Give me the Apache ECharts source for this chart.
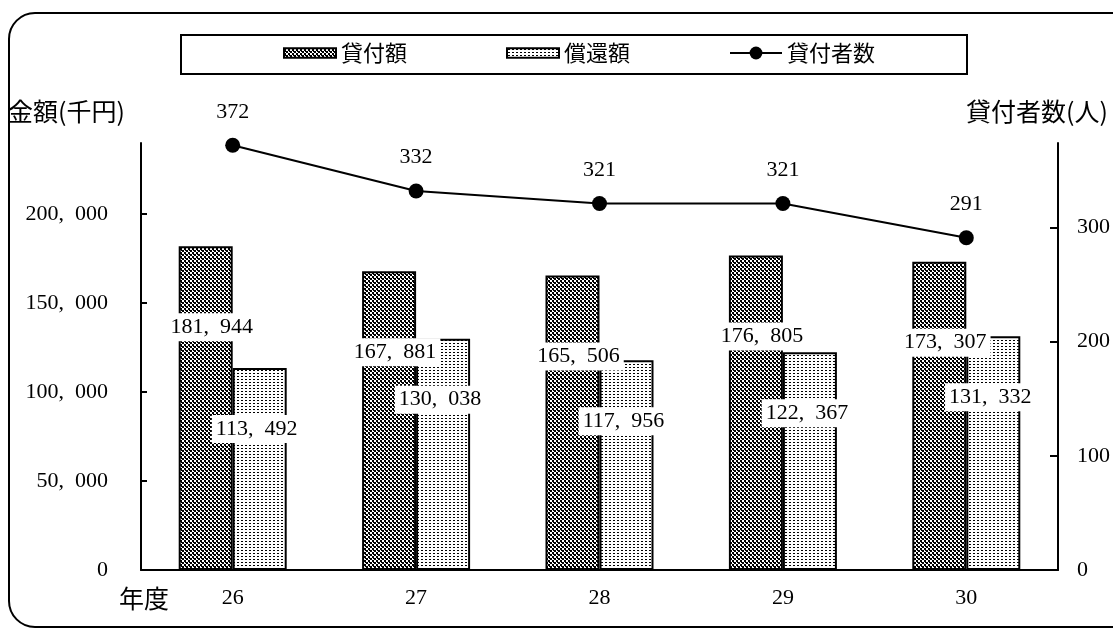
<!DOCTYPE html>
<html lang="ja">

<head>
	<meta charset="UTF-8" />
	<title>貸付額・償還額・貸付者数</title>
	<script src="https://cdn.jsdelivr.net/npm/echarts@6/dist/echarts.min.js"></script>
	<style type="text/css">
		html,
		body {
			margin: 0;
			padding: 0;
			background-color: #ffffff;
		}

		#chart {
			width: 1113px;
			height: 631px;
		}
	</style>
</head>

<body>
	<div id="chart"></div>

	<script>
		//--------------------------- データ ---------------------------//

		const years = ['26', '27', '28', '29', '30'];
		const loanAmount = [181944, 167881, 165506, 176805, 173307];      // 貸付額
		const repayAmount = [113492, 130038, 117956, 122367, 131332];     // 償還額
		const borrowers = [372, 332, 321, 321, 291];                      // 貸付者数
		const leftTicks = [0, 50000, 100000, 150000, 200000];
		const rightTicks = [0, 100, 200, 300];

		const numFont = 'Liberation Serif';
		const jpFont = 'Noto Sans CJK JP';

		// 「181, 944」のような表記 (カンマの後に半角幅の空き)
		function fmt(v) {
			return String(v).replace(/\B(?=(\d{3})+(?!\d))/g, ',\u2002');
		}

		//--------------------------- 網掛けパターン ---------------------------//

		function makePattern(w, h, draw) {
			const c = document.createElement('canvas');
			c.width = w;
			c.height = h;
			const ctx = c.getContext('2d');
			ctx.fillStyle = '#ffffff';
			ctx.fillRect(0, 0, w, h);
			ctx.fillStyle = '#000000';
			draw(ctx);
			return { image: c, repeat: 'repeat' };
		}

		// 貸付額: 濃い市松
		const darkPattern = makePattern(4, 4, (ctx) => {
			ctx.fillRect(0, 0, 2, 2);
			ctx.fillRect(2, 2, 2, 2);
			ctx.fillRect(1, 2, 1, 1);
		});

		// 償還額: 細かいドット
		const dotPattern = makePattern(4, 3, (ctx) => {
			ctx.fillRect(1, 1, 2, 1);
		});

		const barIcon = 'path://M0,0h54v10h-54z';

		//--------------------------- グラフ ---------------------------//

		const chart = echarts.init(document.getElementById('chart'), null, { renderer: 'canvas' });

		chart.setOption({
			animation: false,
			backgroundColor: '#ffffff',
			grid: {
				left: 141,
				right: 55,
				top: 143,
				bottom: 61
			},
			legend: {
				left: 283,
				top: 42,
				itemWidth: 52,
				itemHeight: 16,
				itemGap: 99,
				padding: 0,
				symbolKeepAspect: true,
				textStyle: { fontFamily: jpFont, fontSize: 22, color: '#000' },
				data: [
					{ name: '貸付額', icon: barIcon },
					{ name: '償還額', icon: barIcon },
					{ name: '貸付者数' }
				]
			},
			xAxis: {
				type: 'category',
				data: years,
				axisLine: { lineStyle: { color: '#000', width: 2 } },
				axisTick: { inside: true, length: 7, lineStyle: { color: '#000', width: 2 } },
				axisLabel: { margin: 17, fontFamily: numFont, fontSize: 22, color: '#000' }
			},
			yAxis: [
				{
					type: 'value',
					min: 0,
					max: 240000,
					interval: 50000,
					splitLine: { show: false },
					axisLine: { show: true, lineStyle: { color: '#000', width: 2 } },
					axisTick: { show: true, inside: true, length: 6, customValues: leftTicks, lineStyle: { color: '#000', width: 2 } },
					axisLabel: {
						margin: 33,
						customValues: leftTicks,
						fontFamily: numFont,
						fontSize: 22,
						color: '#000',
						formatter: (v) => fmt(v)
					}
				},
				{
					type: 'value',
					min: 0,
					max: 374,
					interval: 100,
					splitLine: { show: false },
					axisLine: { show: true, lineStyle: { color: '#000', width: 2 } },
					axisTick: { show: true, inside: true, length: 8, customValues: rightTicks, lineStyle: { color: '#000', width: 2 } },
					axisLabel: {
						margin: 19,
						customValues: rightTicks,
						fontFamily: numFont,
						fontSize: 22,
						color: '#000'
					}
				}
			],
			series: [
				{
					name: '貸付額',
					type: 'bar',
					data: loanAmount,
					barWidth: 54,
					barGap: '0%',
					itemStyle: { color: darkPattern, borderColor: '#000', borderWidth: 2 },
					label: {
						show: true,
						position: 'insideTop',
						offset: [6, 62],
						backgroundColor: '#fff',
						padding: [3, 4],
						fontFamily: numFont,
						fontSize: 22,
						color: '#000',
						formatter: (p) => fmt(p.value)
					}
				},
				{
					name: '償還額',
					type: 'bar',
					data: repayAmount,
					barWidth: 54,
					itemStyle: { color: dotPattern, borderColor: '#000', borderWidth: 2 },
					label: {
						show: true,
						position: 'insideTop',
						offset: [-3, 42],
						backgroundColor: '#fff',
						padding: [3, 4],
						fontFamily: numFont,
						fontSize: 22,
						color: '#000',
						formatter: (p) => fmt(p.value)
					}
				},
				{
					name: '貸付者数',
					type: 'line',
					yAxisIndex: 1,
					data: borrowers,
					symbol: 'circle',
					symbolSize: 15,
					lineStyle: { color: '#000', width: 2 },
					itemStyle: { color: '#000' },
					label: {
						show: true,
						position: 'top',
						distance: 15,
						fontFamily: numFont,
						fontSize: 22,
						color: '#000'
					}
				}
			],
			graphic: [
				// 外枠
				{
					type: 'rect',
					shape: { x: 9, y: 13, width: 1130, height: 614, r: 26 },
					style: { fill: 'none', stroke: '#000', lineWidth: 2 },
					silent: true
				},
				// 凡例の枠
				{
					type: 'rect',
					shape: { x: 181, y: 35, width: 786, height: 39 },
					style: { fill: 'none', stroke: '#000', lineWidth: 2 },
					silent: true
				},
				{
					type: 'text',
					left: 8,
					top: 99,
					style: { text: '金額(千円)', fontFamily: jpFont, fontSize: 25, fill: '#000' }
				},
				{
					type: 'text',
					right: 5,
					top: 99,
					style: { text: '貸付者数(人)', fontFamily: jpFont, fontSize: 25, fill: '#000' }
				},
				{
					type: 'text',
					left: 119,
					top: 586,
					style: { text: '年度', fontFamily: jpFont, fontSize: 25, fill: '#000' }
				}
			]
		});
	</script>
</body>

</html>
